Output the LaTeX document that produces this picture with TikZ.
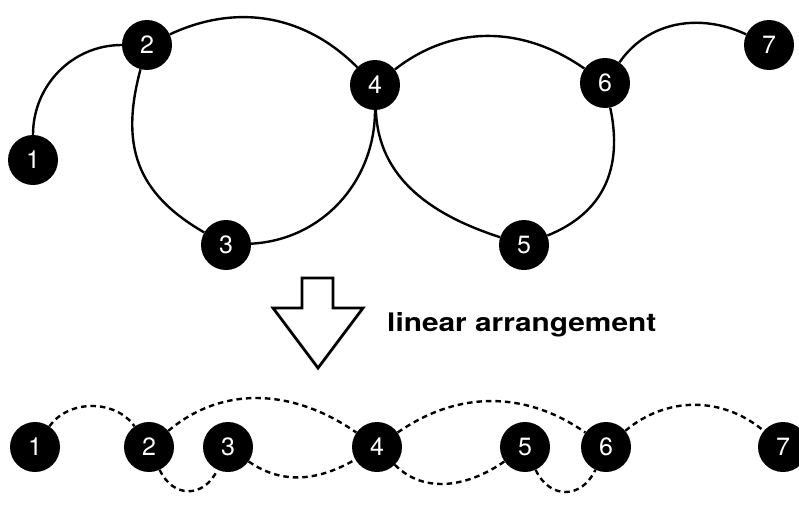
\documentclass[tikz,border=0pt]{standalone}
\usepackage{fontspec}
\setmainfont{TeX Gyre Heros}
\begin{document}
\begin{tikzpicture}[x=1pt,y=-1pt,
  vert/.style={circle,fill=black,minimum size=50pt,inner sep=0pt,text=white,font=\fontsize{25}{26}\selectfont},
  solidedge/.style={line width=2.4pt},
  dashedge/.style={line width=2.4pt,dash pattern=on 5.5pt off 4pt},
  blockarrow/.style={line width=2.8pt,miter limit=10,line join=miter}]
\useasboundingbox (0,0) rectangle (799,506);
% top graph
\node[vert] (a1) at (33,160) {1};
\node[vert] (a2) at (147,45) {2};
\node[vert] (a3) at (226,245) {3};
\node[vert] (a4) at (375,85) {4};
\node[vert] (a5) at (524,245) {5};
\node[vert] (a6) at (605,83) {6};
\node[vert] (a7) at (769,45) {7};
\draw[solidedge] (a1.north) to[out=90,in=180] (a2.west);
\draw[solidedge] (a2) to[out=25,in=135] (a4);
\draw[solidedge] (a2) to[out=-105,in=150,looseness=1.15] (a3);
\draw[solidedge] (a3) to[out=3,in=-90] (a4);
\draw[solidedge] (a4) to[out=-88,in=162] (a5);
\draw[solidedge] (a4) to[out=38,in=145] (a6);
\draw[solidedge] (a6) to[out=-78,in=22,looseness=1.1] (a5);
\draw[solidedge] (a6) to[out=55,in=155] (a7);
% arrow and label
\draw[blockarrow] (302,278) -- (333,278) -- (333,308) -- (363,308) -- (318,368) -- (273,308) -- (302,308) -- cycle;
\node[anchor=base west,inner sep=0pt,font=\bfseries\fontsize{25.5}{27}\selectfont] (lab) at (387,331) {\scalebox{1.17}[1]{linear arrangement}};
% bottom linear arrangement
\node[vert] (b1) at (35,447) {1};
\node[vert] (b2) at (149,447) {2};
\node[vert] (b3) at (228,447) {3};
\node[vert] (b4) at (377,447) {4};
\node[vert] (b5) at (525,447) {5};
\node[vert] (b6) at (606,447) {6};
\node[vert] (b7) at (783,447) {7};
\draw[dashedge] (b1) to[out=55,in=125] (b2);
\draw[dashedge] (b2) to[out=40,in=145] (b4);
\draw[dashedge] (b2) to[out=-65,in=-115,looseness=1.4] (b3);
\draw[dashedge] (b3) to[out=-35,in=-150] (b4);
\draw[dashedge] (b4) to[out=35,in=145] (b6);
\draw[dashedge] (b4) to[out=-45,in=-145] (b5);
\draw[dashedge] (b5) to[out=-65,in=-115,looseness=1.4] (b6);
\draw[dashedge] (b6) to[out=40,in=140] (b7);
\end{tikzpicture}
\end{document}
